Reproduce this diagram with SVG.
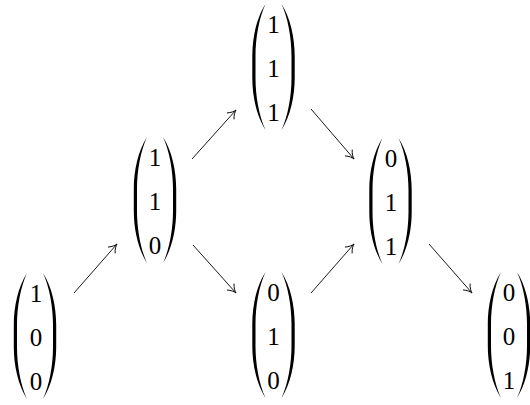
<svg xmlns="http://www.w3.org/2000/svg" xmlns:xlink="http://www.w3.org/1999/xlink" width="530" height="405" viewBox="0 0 530 405">
<defs>
<path id="lp" d="M14,0 C5,14 0.8,34 0.8,52 L0.8,74 C0.8,92 5,112 14,126 C7.5,112 4,92 4,74 L4,52 C4,34 7.5,14 14,0 Z"/>
<marker id="ah" markerUnits="userSpaceOnUse" markerWidth="12" markerHeight="12" viewBox="-9 -6 11 12" refX="0" refY="0" orient="auto">
<path d="M-8,-4.5 C-5.3,-1.7 -2,-0.4 0,0 C-2,0.4 -5.3,1.7 -8,4.5" stroke="#000" stroke-width="0.9" fill="none" stroke-linecap="round"/>
</marker>
</defs>
<rect width="530" height="405" fill="#fff"/>
<g font-family="Liberation Serif, Times New Roman, serif" font-size="25" text-anchor="middle" fill="#000">
<g id="n100">
<use xlink:href="#lp" transform="translate(13,273)"/>
<use xlink:href="#lp" transform="translate(57,273) scale(-1,1)"/>
<text x="36" y="302">1</text><text x="36" y="346">0</text><text x="36" y="390">0</text>
</g>
<g id="n110">
<use xlink:href="#lp" transform="translate(133,137)"/>
<use xlink:href="#lp" transform="translate(177,137) scale(-1,1)"/>
<text x="155" y="166">1</text><text x="155" y="210">1</text><text x="155" y="254">0</text>
</g>
<g id="n111">
<use xlink:href="#lp" transform="translate(251.5,4)"/>
<use xlink:href="#lp" transform="translate(295.5,4) scale(-1,1)"/>
<text x="273.5" y="33">1</text><text x="273.5" y="77">1</text><text x="273.5" y="121">1</text>
</g>
<g id="n010">
<use xlink:href="#lp" transform="translate(251.5,272)"/>
<use xlink:href="#lp" transform="translate(295.5,272) scale(-1,1)"/>
<text x="273.5" y="301">0</text><text x="273.5" y="345">1</text><text x="273.5" y="389">0</text>
</g>
<g id="n011">
<use xlink:href="#lp" transform="translate(368.5,138)"/>
<use xlink:href="#lp" transform="translate(412.5,138) scale(-1,1)"/>
<text x="391" y="167">0</text><text x="391" y="211">1</text><text x="391" y="255">1</text>
</g>
<g id="n001">
<use xlink:href="#lp" transform="translate(487,272)"/>
<use xlink:href="#lp" transform="translate(531,272) scale(-1,1)"/>
<text x="509" y="301">0</text><text x="509" y="345">0</text><text x="509" y="389">1</text>
</g>
</g>
<g id="connectors" stroke="#000" stroke-width="0.9" fill="none">
<line x1="74" y1="293" x2="117" y2="244" marker-end="url(#ah)"/>
<line x1="192" y1="159" x2="236" y2="110" marker-end="url(#ah)"/>
<line x1="193" y1="245" x2="236" y2="293" marker-end="url(#ah)"/>
<line x1="311" y1="109" x2="354" y2="159" marker-end="url(#ah)"/>
<line x1="311" y1="293" x2="354" y2="244" marker-end="url(#ah)"/>
<line x1="429" y1="244" x2="472" y2="293" marker-end="url(#ah)"/>
</g>
</svg>
